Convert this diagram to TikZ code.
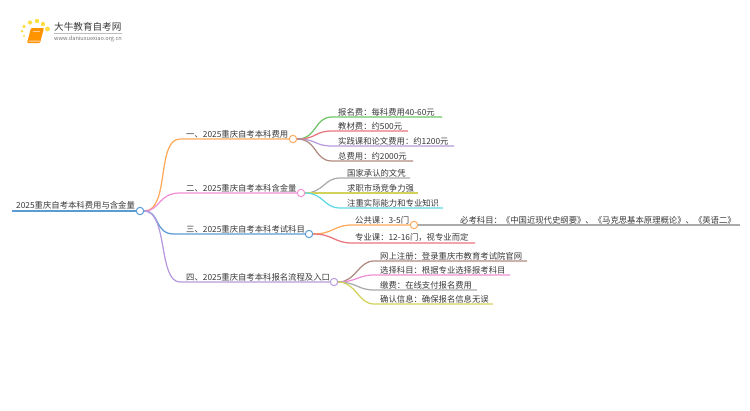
\documentclass[tikz,border=0pt]{standalone}
\usepackage{fontspec}
\usepackage{xcolor}
\usetikzlibrary{
    calc,
    positioning
}
\setmainfont{Noto Sans CJK SC}
\definecolor{rootblue}{HTML}{5B9BD5}
\definecolor{branchorange}{HTML}{FFA95C}
\definecolor{branchpink}{HTML}{F08FD6}
\definecolor{branchpurple}{HTML}{B79BDD}
\definecolor{leafgreen}{HTML}{70C468}
\definecolor{leafred}{HTML}{E8747C}
\definecolor{leafbrown}{HTML}{B08A80}
\definecolor{leafgray}{HTML}{ABABAB}
\definecolor{leafyellow}{HTML}{D2D25A}
\definecolor{leafcyan}{HTML}{5CDAE6}
\tikzset{
    joint/.style={circle, draw=#1, fill=white, line width=1pt, inner sep=0pt, minimum size=7.4pt},
    label/.style={anchor=south west, inner sep=0pt, text=black!78, font=\fontsize{8.35}{8.35}\selectfont},
    wire/.style={line width=#1},
    wire/.default=1.25pt
}
\begin{document}
\begin{tikzpicture}[x=1pt, y=-1pt]
    \useasboundingbox (0, 0) rectangle (750, 410);

    % logo
    \fill[yellow!70!orange, opacity=0.75]
        (24, 36) circle (1.1) (22, 31) circle (1.5) (24, 26.5) circle (1.8)
        (30, 22.5) circle (2.1) (37, 21) circle (2.2) (43, 24) circle (2.2) (47.5, 29) circle (2.4);
    \fill[orange!85!yellow, rounded corners=1pt] (31, 28) -- (44, 28) -- (40, 43) -- (27, 43) -- cycle;
    \fill[orange!30!white] (28.5, 40.5) -- (40, 40.5) -- (39.6, 41.6) -- (28.5, 41.6) -- cycle;
    \draw[orange!40!white, line width=0.5pt] (33, 31.5) -- (40, 31.5);
    \node[anchor=west, inner sep=0pt, text=black!78, font=\fontsize{9.6}{9.6}\selectfont] (title) at (54, 27) {大牛教育自考网};
    \node[anchor=west, inner sep=0pt, text=black!55, font=\fontsize{5.6}{5.6}\selectfont] (site) at (54, 38.5) {www.daniuxuexiao.org.cn};
    \draw[black!25, line width=0.4pt] (54, 33) -- (122, 33);

    % joints
    \node[joint=rootblue] (root) at (140, 211) {};
    \node[joint=branchorange] (one) at (293, 139) {};
    \node[joint=branchpink] (two) at (301, 193) {};
    \node[joint=rootblue] (three) at (309, 234) {};
    \node[joint=branchpurple] (four) at (334, 282) {};
    \node[joint=branchorange] (pub) at (414, 225) {};

    % line starts and ends
    \coordinate (rootstart) at (12, 211);
    \coordinate (onea) at (180, 139);
    \coordinate (twoa) at (180, 193);
    \coordinate (threea) at (174, 234);
    \coordinate (foura) at (180, 282);

    \coordinate (a1) at (332, 117);
    \coordinate (a2) at (332, 131);
    \coordinate (a3) at (332, 146);
    \coordinate (a4) at (332, 161);
    \coordinate (a1e) at (442, 117);
    \coordinate (a2e) at (408, 131);
    \coordinate (a3e) at (454, 146);
    \coordinate (a4e) at (413, 161);

    \coordinate (b1) at (340, 178);
    \coordinate (b2) at (340, 193);
    \coordinate (b3) at (340, 208);
    \coordinate (b1e) at (410, 178);
    \coordinate (b2e) at (418, 193);
    \coordinate (b3e) at (443, 208);

    \coordinate (c1) at (352, 225);
    \coordinate (c2) at (352, 243);
    \coordinate (c2e) at (475, 243);
    \coordinate (pube) at (740, 225);

    \coordinate (d1) at (374, 261);
    \coordinate (d2) at (374, 275);
    \coordinate (d3) at (374, 290);
    \coordinate (d4) at (374, 304);
    \coordinate (d1e) at (527, 261);
    \coordinate (d2e) at (510, 275);
    \coordinate (d3e) at (477, 290);
    \coordinate (d4e) at (493, 304);

    % labels
    \node[label] (roottext) at (16, 209) {2025重庆自考本科费用与含金量};
    \node[label] (onetext) at (186, 138) {一、2025重庆自考本科费用};
    \node[label] (twotext) at (186, 192) {二、2025重庆自考本科含金量};
    \node[label] (threetext) at (186, 233) {三、2025重庆自考本科考试科目};
    \node[label] (fourtext) at (186, 281) {四、2025重庆自考本科报名流程及入口};

    \node[label] (a1text) at (338, 116) {报名费：每科费用40-60元};
    \node[label] (a2text) at (338, 130) {教材费：约500元};
    \node[label] (a3text) at (338, 145) {实践课和论文费用：约1200元};
    \node[label] (a4text) at (338, 160) {总费用：约2000元};

    \node[label] (b1text) at (347, 177) {国家承认的文凭};
    \node[label] (b2text) at (347, 192) {求职市场竞争力强};
    \node[label] (b3text) at (347, 207) {注重实际能力和专业知识};

    \node[label] (c1text) at (355, 224) {公共课：3-5门};
    \node[label] (c2text) at (355, 242) {专业课：12-16门，视专业而定};
    \node[label] (pubtext) at (460, 224) {必考科目：《中国近现代史纲要》、《马克思基本原理概论》、《英语二》};

    \node[label] (d1text) at (380, 260) {网上注册：登录重庆市教育考试院官网};
    \node[label] (d2text) at (380, 274) {选择科目：根据专业选择报考科目};
    \node[label] (d3text) at (380, 289) {缴费：在线支付报名费用};
    \node[label] (d4text) at (380, 303) {确认信息：确保报名信息无误};

    % main branches
    \draw[wire=1.3pt, rootblue] (rootstart) -- (root);
    \draw[wire, branchorange] (root.east) .. controls +(26, 0) and +(-24, 0) .. (onea) -- (one);
    \draw[wire, branchpink] (root.east) .. controls +(16, 0) and +(-22, 0) .. (twoa) -- (two);
    \draw[wire, rootblue] (root.east) .. controls +(16, 0) and +(-20, 0) .. (threea) -- (three);
    \draw[wire, branchpurple] (root.east) .. controls +(24, 0) and +(-22, 0) .. (foura) -- (four);

    % first group
    \draw[wire, leafgreen] (one.east) .. controls +(20, 0) and +(-18, 0) .. (a1) -- (a1e);
    \draw[wire, leafred] (one.east) .. controls +(20, 0) and +(-18, 0) .. (a2) -- (a2e);
    \draw[wire, branchpurple] (one.east) .. controls +(20, 0) and +(-18, 0) .. (a3) -- (a3e);
    \draw[wire, leafbrown] (one.east) .. controls +(20, 0) and +(-18, 0) .. (a4) -- (a4e);

    % second group
    \draw[wire, leafgray] (two.east) .. controls +(18, 0) and +(-16, 0) .. (b1) -- (b1e);
    \draw[wire, leafyellow] (two.east) -- (b2) -- (b2e);
    \draw[wire, leafcyan] (two.east) .. controls +(18, 0) and +(-16, 0) .. (b3) -- (b3e);

    % third group
    \draw[wire, branchorange] (three.east) .. controls +(20, 0) and +(-18, 0) .. (c1) -- (pub);
    \draw[wire, leafred] (three.east) .. controls +(20, 0) and +(-18, 0) .. (c2) -- (c2e);
    \draw[wire, leafgray] (pub.east) -- (pube);

    % fourth group
    \draw[wire, leafbrown] (four.east) .. controls +(18, 0) and +(-16, 0) .. (d1) -- (d1e);
    \draw[wire, branchpink] (four.east) .. controls +(18, 0) and +(-16, 0) .. (d2) -- (d2e);
    \draw[wire, leafgray] (four.east) .. controls +(18, 0) and +(-16, 0) .. (d3) -- (d3e);
    \draw[wire, leafyellow] (four.east) .. controls +(18, 0) and +(-16, 0) .. (d4) -- (d4e);
\end{tikzpicture}
\end{document}
